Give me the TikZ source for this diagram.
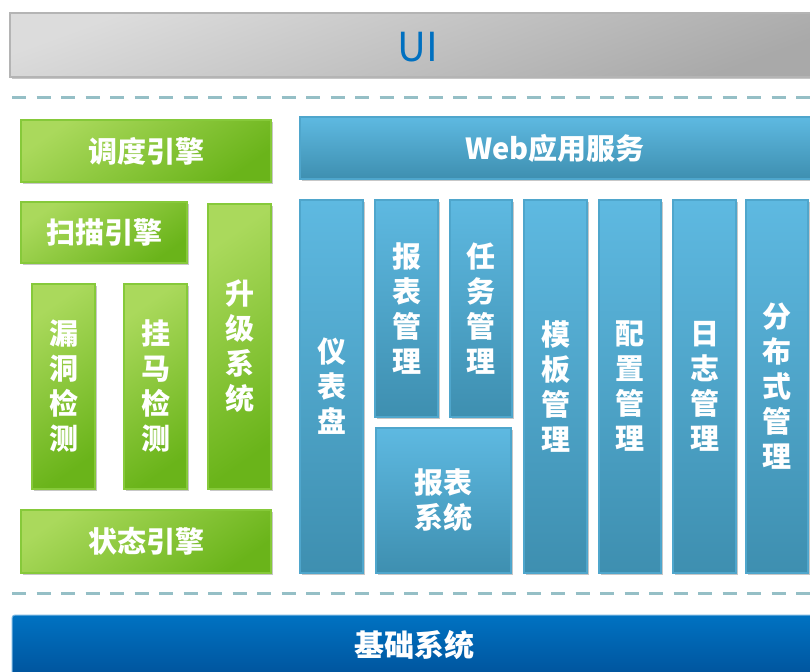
\documentclass[tikz,border=0pt]{standalone}
\usepackage{fontspec}
\setmainfont{Noto Sans CJK SC}
\usetikzlibrary{shadows}
\definecolor{uitop}{HTML}{DCDCDC}
\definecolor{uibot}{HTML}{A9A9A9}
\definecolor{uiborder}{HTML}{B4B4B4}
\definecolor{uitext}{HTML}{0070C0}
\definecolor{dashc}{HTML}{95BFC6}
\definecolor{glight}{HTML}{AAD95C}
\definecolor{gdark}{HTML}{6AB41A}
\definecolor{gborder}{HTML}{86C93A}
\definecolor{blight}{HTML}{5EB9E1}
\definecolor{bdark}{HTML}{3E8FB0}
\definecolor{bborder}{HTML}{4FA6CC}
\definecolor{basetop}{HTML}{0072C2}
\definecolor{basebot}{HTML}{00529A}
\definecolor{baseborder}{HTML}{79B6E2}
\newcommand\mybox[7]{\node[#6, anchor=north west, minimum width={(#4-#2)*1pt}, minimum height={(#5-#3)*1pt}] (#1) at (#2,#3) {#7};}
\begin{document}
\begin{tikzpicture}[x=1pt,y=-1pt,
  every node/.style={inner sep=0pt, outer sep=0pt},
  shad/.style={drop shadow={shadow xshift=1.5pt,shadow yshift=-2pt,fill=black,opacity=0.22}},
  uibox/.style={shad, draw=uiborder, line width=1.2pt, top color=uitop, bottom color=uibot, shading angle=20,
    text=uitext, font=\fontsize{40}{44}\selectfont},
  gbox/.style={shad, draw=gborder, line width=1.3pt, top color=glight, bottom color=gdark, shading angle=35,
    text=white, align=center, font=\fontsize{29}{35}\selectfont\bfseries},
  bbox/.style={shad, draw=bborder, line width=1.3pt, top color=blight, bottom color=bdark,
    text=white, align=center, font=\fontsize{29}{35}\selectfont\bfseries},
  basebox/.style={shad, draw=baseborder, line width=1pt, top color=basetop, bottom color=basebot, rounded corners=3pt,
    text=white, font=\fontsize{30}{35}\selectfont\bfseries},
  dashline/.style={draw=dashc, line width=3pt, dash pattern=on 14pt off 10.5pt}]
\useasboundingbox (0,0) rectangle (810,671);
\fill[white] (0,0) rectangle (810,671);
% top UI bar
\mybox{ui}{10}{13}{818}{77}{uibox}{}
\node[text=uitext, font=\fontsize{40}{44}\selectfont] (uitxt) at (418,47) {UI};
% dashed separators
\coordinate (d1s) at (12,98); \coordinate (d1e) at (812,98);
\coordinate (d2s) at (12,593); \coordinate (d2e) at (812,593);
\draw[dashline] (d1s) -- (d1e);
\draw[dashline] (d2s) -- (d2e);
% green engines
\mybox{dd}{21}{120}{271}{182}{gbox}{调度引擎}
\mybox{sm}{21}{202}{187}{263}{gbox}{扫描引擎}
\mybox{sj}{208}{204}{271}{489}{gbox}{升\\级\\系\\统}
\mybox{ld}{32}{284}{95}{489}{gbox}{漏\\洞\\检\\测}
\mybox{gm}{124}{284}{187}{489}{gbox}{挂\\马\\检\\测}
\mybox{zt}{21}{510}{271}{573}{gbox}{状态引擎}
% blue web services
\mybox{web}{300}{117}{818}{179}{bbox}{}
\node[text=white, font=\fontsize{29}{35}\selectfont\bfseries] (webtxt) at (555,148) {Web应用服务};
\mybox{ybp}{300}{200}{363}{573}{bbox}{仪\\表\\盘}
\mybox{bbgl}{375}{200}{438}{417}{bbox}{报\\表\\管\\理}
\mybox{rwgl}{450}{200}{512}{417}{bbox}{任\\务\\管\\理}
\mybox{bbxt}{376}{428}{511}{573}{bbox}{报表\\系统}
\mybox{mbgl}{524}{200}{587}{573}{bbox}{模\\板\\管\\理}
\mybox{pzgl}{599}{200}{661}{573}{bbox}{配\\置\\管\\理}
\mybox{rzgl}{673}{200}{736}{573}{bbox}{日\\志\\管\\理}
\mybox{fbs}{746}{200}{808}{573}{bbox}{分\\布\\式\\管\\理}
% base system
\mybox{base}{12}{615}{818}{680}{basebox}{}
\node[text=white, font=\fontsize{30}{35}\selectfont\bfseries] (basetxt) at (414,645) {基础系统};
\end{tikzpicture}
\end{document}
